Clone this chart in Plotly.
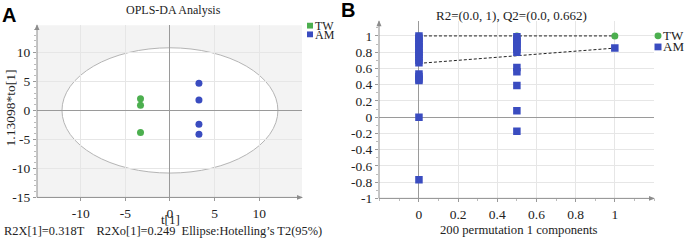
import plotly.graph_objects as go

W, H = 685, 248
FONT = "Liberation Serif"
GREEN = "#4caf4f"
BLUE = "#3a4cc0"

# ---- Panel A data (OPLS-DA scores) ----
tw_t = [-3.3, -3.3, -3.3]
tw_to = [2.0, 0.9, -3.8]
am_t = [3.25, 3.25, 3.25, 3.25]
am_to = [4.7, 1.8, -2.4, -4.1]
ellipse_rx = 12.1
ellipse_ry = 10.8
a_ticks = [-10, -5, 0, 5, 10]
a_ticktext = ["-10", "-5", "0", "5", "10"]
a_yticks = [-15, -10, -5, 0, 5, 10]
a_yticktext = ["-15", "-10", "-5", "0", "5", "10"]

# ---- Panel B data (permutation test) ----
r2_x = [0, 0.5, 1]
r2_y = [1.0, 1.0, 1.0]
q2_x = [0]*17 + [0.5]*12 + [1]
q2_y = [1.0, 0.97, 0.93, 0.9, 0.87, 0.84, 0.8, 0.77, 0.74, 0.7, 0.67,
        0.53, 0.5, 0.47, 0.45, 0.0, -0.77,
        0.99, 0.96, 0.93, 0.9, 0.87, 0.84, 0.8, 0.61, 0.56, 0.39, 0.08, -0.175,
        0.85]
r2_line_x = [0, 1]
r2_line_y = [1.0, 1.0]
q2_line_x = [0, 1]
q2_line_y = [0.662, 0.85]
b_xticks = [0, 0.2, 0.4, 0.6, 0.8, 1]
b_xticktext = ["0", "0.2", "0.4", "0.6", "0.8", "1"]
b_yticks = [-1, -0.8, -0.6, -0.4, -0.2, 0, 0.2, 0.4, 0.6, 0.8, 1]
b_yticktext = ["-1", "-0.8", "-0.6", "-0.4", "-0.2", "0", "0.2", "0.4", "0.6", "0.8", "1"]


def px(x):
    return x / W


def py(y):
    return 1 - y / H


fig = go.Figure()

# Panel A traces
fig.add_trace(go.Scatter(x=tw_t, y=tw_to, mode="markers", xaxis="x", yaxis="y",
                         marker=dict(color=GREEN, size=7), showlegend=False))
fig.add_trace(go.Scatter(x=am_t, y=am_to, mode="markers", xaxis="x", yaxis="y",
                         marker=dict(color=BLUE, size=7), showlegend=False))

# Panel B traces
fig.add_trace(go.Scatter(x=r2_line_x, y=r2_line_y, mode="lines", xaxis="x2", yaxis="y2",
                         line=dict(color="#222", width=1, dash="3px,2px"), showlegend=False))
fig.add_trace(go.Scatter(x=q2_line_x, y=q2_line_y, mode="lines", xaxis="x2", yaxis="y2",
                         line=dict(color="#222", width=1, dash="3px,2px"), showlegend=False))
fig.add_trace(go.Scatter(x=r2_x, y=r2_y, mode="markers", xaxis="x2", yaxis="y2",
                         marker=dict(color=GREEN, size=7), showlegend=False))
fig.add_trace(go.Scatter(x=q2_x, y=q2_y, mode="markers", xaxis="x2", yaxis="y2",
                         marker=dict(color=BLUE, size=7.5, symbol="square"), showlegend=False))

axis_common = dict(showline=False, ticks="outside", ticklen=3, tickcolor="#999",
                   tickfont=dict(family=FONT, size=13.5, color="#222"),
                   gridcolor="#e6e6e6", gridwidth=1, zeroline=True,
                   zerolinecolor="#9a9a9a", zerolinewidth=1)

A_L, A_R, A_T, A_B = 37, 302, 26, 204
B_L, B_R, B_T, B_B = 379, 654, 22, 205

fig.update_layout(
    width=W, height=H, margin=dict(l=0, r=0, t=0, b=0),
    paper_bgcolor="white", plot_bgcolor="rgba(0,0,0,0)",
    xaxis=dict(domain=[px(A_L), px(A_R)], range=[-14.9, 14.8], tickvals=a_ticks,
               ticktext=a_ticktext, anchor="y", **axis_common),
    yaxis=dict(domain=[py(A_B), py(A_T)], range=[-15, 14.7], tickvals=a_yticks,
               ticktext=a_yticktext, anchor="x",
               minor=dict(ticks="outside", ticklen=2, tickcolor="#bbb", showgrid=False, dtick=1),
               **axis_common),
    xaxis2=dict(domain=[px(B_L), px(B_R)], range=[-0.204, 1.2], tickvals=b_xticks,
                ticktext=b_xticktext, anchor="y2",
                minor=dict(ticks="outside", ticklen=2, tickcolor="#bbb", showgrid=False, dtick=0.1),
                **axis_common),
    yaxis2=dict(domain=[py(B_B), py(B_T)], range=[-1, 1.18], tickvals=b_yticks,
                ticktext=b_yticktext, anchor="x2",
                minor=dict(ticks="outside", ticklen=2, tickcolor="#bbb", showgrid=False, dtick=0.1),
                **axis_common),
    showlegend=False,
)

shapes = []
# Panel A gray background + white ellipse (below grid)
shapes.append(dict(type="rect", xref="paper", yref="paper", x0=px(A_L), x1=px(A_R),
                   y0=py(A_B), y1=py(A_T), fillcolor="#f3f3f3", line=dict(width=0), layer="below"))
shapes.append(dict(type="circle", xref="x", yref="y", x0=-ellipse_rx, x1=ellipse_rx,
                   y0=-ellipse_ry, y1=ellipse_ry, fillcolor="white",
                   line=dict(color="#b5b5b5", width=1), layer="below"))


def axes_lines(L, R, T, B):
    out = []
    col = "#8c8c8c"
    out.append(dict(type="line", xref="paper", yref="paper", x0=px(L), x1=px(L),
                    y0=py(B), y1=py(T), line=dict(color=col, width=1)))
    out.append(dict(type="line", xref="paper", yref="paper", x0=px(L), x1=px(R),
                    y0=py(B), y1=py(B), line=dict(color=col, width=1)))
    # arrow heads
    out.append(dict(type="path", xref="paper", yref="paper",
                    path=f"M {px(L-2.5)} {py(T+5)} L {px(L+2.5)} {py(T+5)} L {px(L)} {py(T-1)} Z",
                    fillcolor=col, line=dict(width=0)))
    out.append(dict(type="path", xref="paper", yref="paper",
                    path=f"M {px(R-5)} {py(B-2.5)} L {px(R-5)} {py(B+2.5)} L {px(R+1)} {py(B)} Z",
                    fillcolor=col, line=dict(width=0)))
    return out


shapes += axes_lines(A_L, A_R, A_T, A_B)
shapes += axes_lines(B_L, B_R, B_T, B_B)

# manual legends
shapes.append(dict(type="rect", xref="paper", yref="paper", x0=px(307), x1=px(313),
                   y0=py(29.5), y1=py(23.5), fillcolor=GREEN, line=dict(width=0)))
shapes.append(dict(type="rect", xref="paper", yref="paper", x0=px(307), x1=px(313),
                   y0=py(38.5), y1=py(32.5), fillcolor=BLUE, line=dict(width=0)))
shapes.append(dict(type="circle", xref="paper", yref="paper", x0=px(654.5), x1=px(661.5),
                   y0=py(40.5), y1=py(33.5), fillcolor=GREEN, line=dict(width=0)))
shapes.append(dict(type="rect", xref="paper", yref="paper", x0=px(654.5), x1=px(661.5),
                   y0=py(52), y1=py(45), fillcolor=BLUE, line=dict(width=0)))
fig.update_layout(shapes=shapes)


def ann(text, x, y, size=13, xanchor="center", yanchor="middle", family=FONT, angle=0, color="#222"):
    return dict(text=text, x=px(x), y=py(y), xref="paper", yref="paper", showarrow=False,
                xanchor=xanchor, yanchor=yanchor, textangle=angle, borderpad=0,
                font=dict(family=family, size=size, color=color))


anns = [
    ann("<b>A</b>", 1, 16, size=20, xanchor="left", family="Liberation Sans", color="#000"),
    ann("<b>B</b>", 340, 10, size=20, xanchor="left", family="Liberation Sans", color="#000"),
    ann("OPLS-DA Analysis", 174, 10.5, size=12),
    ann("R2=(0.0, 1), Q2=(0.0, 0.662)", 511, 15.5, size=13),
    ann("t[1]", 170, 227, size=13),
    ann("R2X[1]=0.318T    R2Xo[1]=0.249  Ellipse:Hotelling’s T2(95%)", 3, 238.5, size=12.4, xanchor="left"),
    ann("1.13098*to[1]", 10, 112, size=13.5, angle=-90),
    ann("200 permutation 1 components", 519, 238, size=12.7),
    ann("TW", 314, 27, size=12, xanchor="left"),
    ann("AM", 314, 36.5, size=12, xanchor="left"),
    ann("TW", 662, 37, size=13, xanchor="left"),
    ann("AM", 662, 48.5, size=13, xanchor="left"),
]
fig.update_layout(annotations=anns)

fig.write_html("out.html", config={"displayModeBar": False},
               post_script="document.body.style.margin='0';document.body.style.padding='0';")
